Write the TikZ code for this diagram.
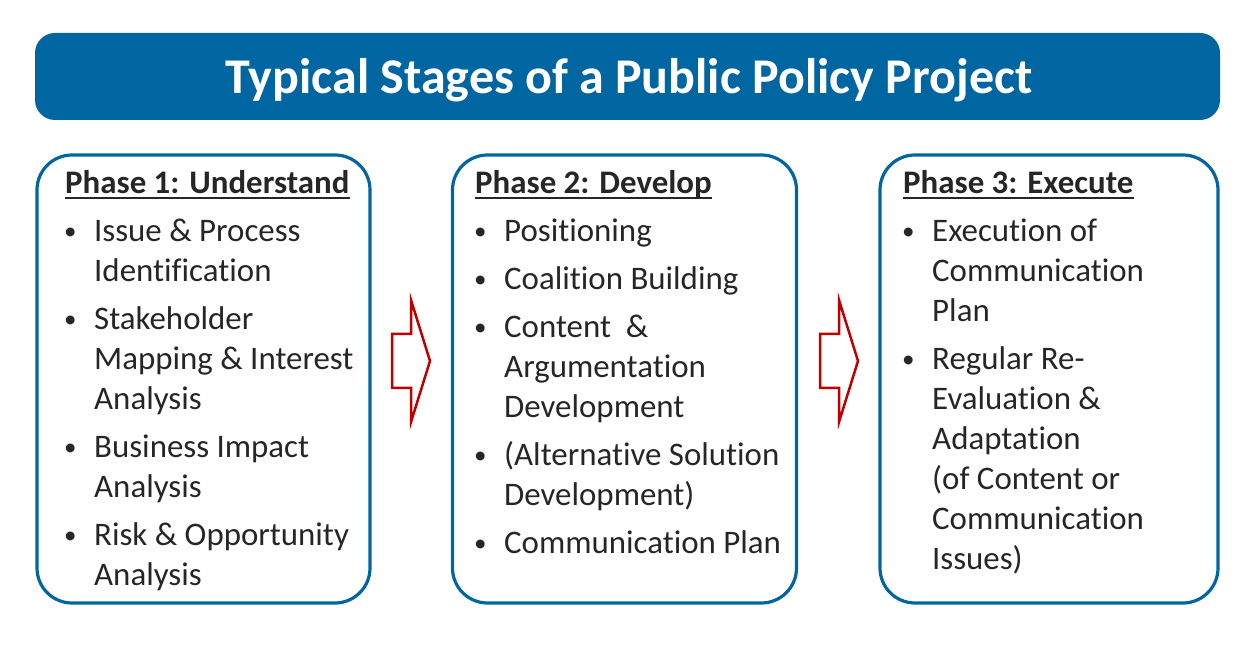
\documentclass[tikz,border=0pt]{standalone}
\usepackage{fontspec}
\setmainfont{Carlito}[Ligatures=NoCommon]
\usepackage{xcolor}
\usepackage{tikz}
\usetikzlibrary{positioning}
\definecolor{PolicyBlue}{RGB}{0,102,161}
\definecolor{ArrowRed}{RGB}{192,0,0}
\definecolor{TextGray}{RGB}{38,38,38}
\newcommand{\bodyfont}{\fontsize{32.9}{40}\selectfont}
\newcommand{\itembul}{\hspace*{-1pt}\raisebox{2pt}{\fontsize{25}{25}\selectfont\textbullet}}

\begin{document}
\begin{tikzpicture}[x=1pt,y=-1pt,
  phasebox/.style={draw=PolicyBlue,line width=3.2pt,rounded corners=35pt,minimum height=448pt,inner sep=0pt},
  phasehead/.style={anchor=base west,inner sep=0pt,text=TextGray,font=\bodyfont\bfseries},
  phaselist/.style={anchor=base west,inner sep=0pt,text=TextGray,font=\bodyfont}]
  \useasboundingbox (0,0) rectangle (1243,652);
  \node[fill=PolicyBlue,rounded corners=20pt,minimum width=1185pt,minimum height=87pt,inner sep=0pt] (title) at (627.5,76.5) {};
  \node[text=white,font=\fontsize{50}{55}\selectfont\bfseries,inner sep=0pt] (titletext) at (629,80)
        {Typical Stages of a Public Policy Project};
  % the three phases
  \node[phasebox,minimum width=333pt] (phase1) at (203.5,379) {};
  \node[phasebox,minimum width=344pt] (phase2) at (624.5,379) {};
  \node[phasebox,minimum width=338pt] (phase3) at (1049,379) {};
  \node[phasehead] (head1) at (65,194) {Phase 1: Understand};
  \node[phasehead] (head2) at (475,194) {Phase 2: Develop};
  \node[phasehead] (head3) at (903,194) {Phase 3: Execute};
  \foreach \h in {head1,head2,head3}
    \draw[TextGray,line width=2pt] ([yshift=-4.5pt]\h.base west) -- ([yshift=-4.5pt]\h.base east);
  \node[phaselist] (list1) at (65,242) {\begin{tabular}[t]{@{}p{29pt}@{}l@{}}
    \itembul & Issue \& Process\\
        & Identification\\[8pt]
    \itembul & Stakeholder\\
        & Mapping \& Interest\\
        & Analysis\\[8pt]
    \itembul & Business Impact\\
        & Analysis\\[8pt]
    \itembul & Risk \& Opportunity\\
        & Analysis
  \end{tabular}};
  \node[phaselist] (list2) at (475,242) {\begin{tabular}[t]{@{}p{29pt}@{}l@{}}
    \itembul & Positioning\\[8pt]
    \itembul & Coalition Building\\[8pt]
    \itembul & Content\ \ \&\\
        & Argumentation\\
        & Development\\[8pt]
    \itembul & (Alternative Solution\\
        & Development)\\[8pt]
    \itembul & Communication Plan
  \end{tabular}};
  \node[phaselist] (list3) at (903,242) {\begin{tabular}[t]{@{}p{29pt}@{}l@{}}
    \itembul & Execution of\\
        & Communication\\
        & Plan\\[8pt]
    \itembul & Regular Re-\\
        & Evaluation \&\\
        & Adaptation\\
        & (of Content or\\
        & Communication\\
        & Issues)
  \end{tabular}};
  % block arrows between the phases
  \foreach \ax in {392,820}
    \draw[ArrowRed,line width=2.5pt,fill=white] (\ax,334) -- ++(19,0) -- ++(0,-34)
      -- (\ax+38,361) -- (\ax+19,422) -- ++(0,-34) -- (\ax,388) -- cycle;
\end{tikzpicture}
\end{document}
